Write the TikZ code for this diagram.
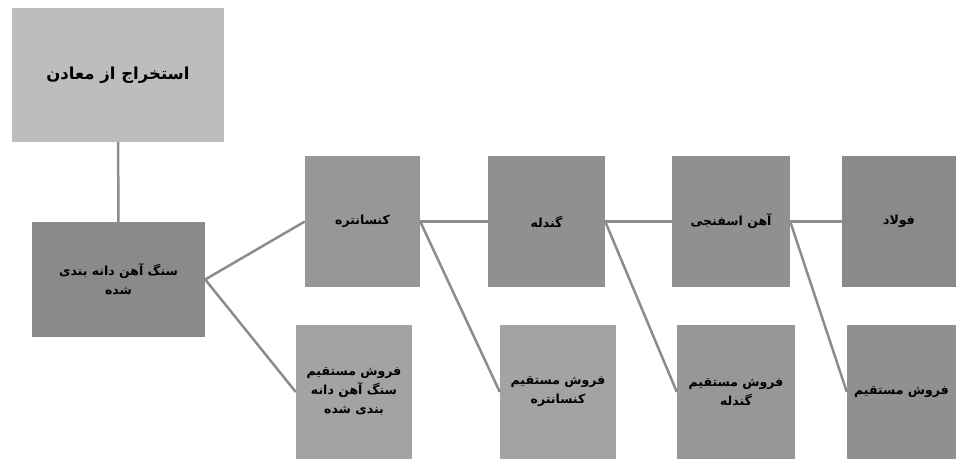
\documentclass[tikz,border=0pt]{standalone}
\usepackage{fontspec}
\newfontfamily\arabicfont[Script=Arabic]{DejaVu Sans}
\TeXXeTstate=1
\newcommand{\fa}[1]{\beginR #1\endR}
\definecolor{boxlight}{HTML}{BDBDBD}
\definecolor{boxdark}{HTML}{8A8A8A}
\definecolor{boxmid}{HTML}{979797}
\definecolor{boxlow}{HTML}{A3A3A3}
\definecolor{linkgray}{HTML}{8C8C8C}

\tikzset{
    stage/.style={rectangle, fill=boxmid, align=center, inner sep=2pt,
        font=\arabicfont\bfseries\fontsize{12.5}{19}\selectfont},
    sale/.style={stage, fill=boxlow, minimum height=134pt},
    link/.style={draw=linkgray, line width=2.5pt}
}

\begin{document}
\begin{tikzpicture}[x=1pt, y=-1pt]
    \useasboundingbox (0,0) rectangle (956,462);
    \node[stage, fill=boxlight, minimum width=212pt, minimum height=134pt,
        font=\arabicfont\bfseries\fontsize{16.5}{20}\selectfont] (mine) at (118,75) {\fa{استخراج از معادن}};
    \node[stage, fill=boxdark, minimum width=173pt, minimum height=115pt] (ore) at (118.5,279.5)
        {\fa{سنگ آهن دانه بندی}\\\fa{شده}};
    \node[stage, minimum width=115pt, minimum height=131pt] (conc) at (362.5,221.5) {\fa{کنسانتره}};
    \node[stage, fill=boxdark!95, minimum width=117pt, minimum height=131pt] (pellet) at (546.5,221.5) {\fa{گندله}};
    \node[stage, fill=boxdark!95, minimum width=118pt, minimum height=131pt] (dri) at (731,221.5) {\fa{آهن اسفنجی}};
    \node[stage, fill=boxdark, minimum width=114pt, minimum height=131pt] (steel) at (899,221.5) {\fa{فولاد}};
    \node[sale, minimum width=116pt] (saleore) at (354,392)
        {\fa{فروش مستقیم}\\\fa{سنگ آهن دانه}\\\fa{بندی شده}};
    \node[sale, minimum width=116pt] (saleconc) at (558,392)
        {\fa{فروش مستقیم}\\\fa{کنسانتره}};
    \node[sale, fill=boxmid, minimum width=118pt] (salepellet) at (736,392)
        {\fa{فروش مستقیم}\\\fa{گندله}};
    \node[sale, fill=boxdark!95, minimum width=109pt] (saledri) at (901.5,392)
        {\fa{فروش مستقیم}};

    \draw[link] (mine) -- (ore);
    \draw[link] (ore.east) -- (conc.west);
    \draw[link] (ore.east) -- (saleore.west);
    \draw[link] (conc.east) -- (pellet.west);
    \draw[link] (conc.east) -- (saleconc.west);
    \draw[link] (pellet.east) -- (dri.west);
    \draw[link] (pellet.east) -- (salepellet.west);
    \draw[link] (dri.east) -- (steel.west);
    \draw[link] (dri.east) -- (saledri.west);
\end{tikzpicture}
\end{document}
